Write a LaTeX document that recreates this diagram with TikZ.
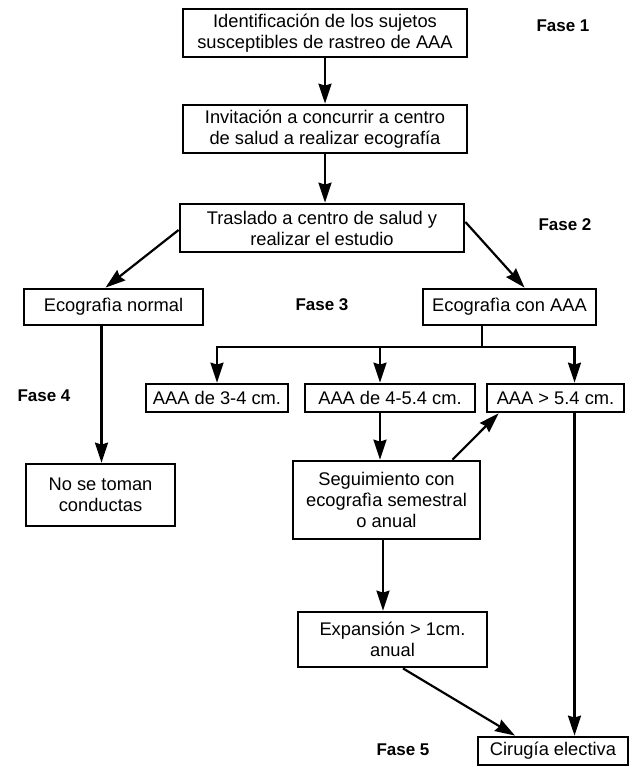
\documentclass[tikz,border=0pt]{standalone}
\usepackage{fontspec}
\setmainfont{Liberation Sans}
\usepackage{tikz}
\usetikzlibrary{arrows.meta,positioning}
\tikzset{
  caja/.style={rectangle,draw=black,line width=2.8pt,align=center,inner sep=0pt,
    font=\fontsize{18.3}{21}\selectfont},
  fase/.style={font=\fontsize{17}{20}\selectfont\bfseries},
  flecha/.style={-{Stealth[length=20pt,width=13pt,inset=2pt]},line width=2.2pt,draw=black}
}

\begin{document}
\begin{tikzpicture}[x=1pt,y=-1pt]
\useasboundingbox (0,0) rectangle (634,767);
\node[caja,minimum width=284pt,minimum height=48pt] (ident) at (325,33) {Identificación de los sujetos\\susceptibles de rastreo de AAA};
\node[caja,minimum width=284pt,minimum height=48pt] (invit) at (325,129) {Invitación a concurrir a centro\\de salud a realizar ecografía};
\node[caja,minimum width=284pt,minimum height=48pt] (trasl) at (322,228) {Traslado a centro de salud y\\realizar el estudio};
\node[caja,minimum width=179pt,minimum height=36pt] (enorm) at (113.5,307) {Ecografìa normal};
\node[caja,minimum width=173pt,minimum height=36pt] (eaaa) at (509.5,307) {Ecografìa con AAA};
\node[caja,minimum width=142pt,minimum height=28pt] (a34) at (217,398) {AAA de 3-4 cm.};
\node[caja,minimum width=170pt,minimum height=28pt] (a45) at (390,398) {AAA de 4-5.4 cm.};
\node[caja,minimum width=137pt,minimum height=28pt] (a54) at (555.5,398) {AAA > 5.4 cm.};
\node[caja,minimum width=149pt,minimum height=62pt] (nose) at (100.5,495) {No se toman\\conductas};
\node[caja,minimum width=187pt,minimum height=78pt] (seg) at (386.5,500) {Seguimiento con\\ecografìa semestral\\o anual};
\node[caja,minimum width=189pt,minimum height=55pt] (exp) at (392.5,639.5) {Expansión > 1cm.\\anual};
\node[caja,minimum width=150pt,minimum height=28pt] (cir) at (553,751) {Cirugía electiva};
% fases
\node[fase] (f1) at (563,26) {Fase 1};
\node[fase] (f2) at (565,225) {Fase 2};
\node[fase] (f3) at (322,305) {Fase 3};
\node[fase] (f4) at (44,396) {Fase 4};
\node[fase] (f5) at (403,750) {Fase 5};
% conectores
\coordinate (rama) at (482,347);
\draw[flecha] (ident) -- (invit);
\draw[flecha] (invit.south) -- (invit.south |- trasl.north);
\draw[flecha] ([yshift=-2pt]trasl.west) -- ([xshift=-8pt]enorm.north);
\draw[flecha] ([yshift=6pt]trasl.east) -- ([xshift=15pt]eaaa.north);
\draw[flecha] ([xshift=-12pt]enorm.south) -- ([xshift=-12pt]enorm.south |- nose.north);
\draw[flecha] (eaaa.south -| rama) -- (rama) -| (a34.north);
\draw[flecha] (rama) -| ([xshift=19pt]a54.north);
\draw[flecha] ([xshift=-10pt]a45.north |- rama) -- ([xshift=-10pt]a45.north);
\draw[flecha] ([xshift=-10pt]a45.south) -- ([xshift=-10pt]a45.south |- seg.north);
\draw[flecha] ([xshift=66pt]seg.north) -- ([xshift=13pt]a54.south west);
\draw[flecha] ([xshift=-3.5pt]seg.south) -- ([xshift=-3.5pt]seg.south |- exp.north);
\draw[flecha] ([xshift=10.5pt]exp.south) -- ([xshift=-38pt]cir.north);
\draw[flecha] ([xshift=19pt]a54.south) -- ([xshift=19pt]a54.south |- cir.north);
\end{tikzpicture}
\end{document}
